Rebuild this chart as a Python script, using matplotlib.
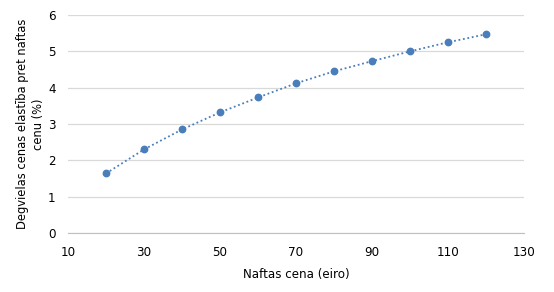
import matplotlib.pyplot as plt
import numpy as np

oil_price = [20, 30, 40, 50, 60, 70, 80, 90, 100, 110, 120]
elasticity = [1.64, 2.30, 2.85, 3.32, 3.73, 4.12, 4.45, 4.73, 5.00, 5.25, 5.47]
x_ticks = [10, 30, 50, 70, 90, 110, 130]
y_ticks = [0, 1, 2, 3, 4, 5, 6]

color = '#4a7ebb'

fig = plt.figure(figsize=(5.54, 2.92), dpi=100)
ax = fig.add_axes([0.1227, 0.202, 0.8233, 0.7466])

ax.plot(oil_price, elasticity, linestyle=(0, (1, 1.5)), color=color, linewidth=1.3)
ax.plot(oil_price, elasticity, linestyle='none', marker='o', markersize=4.6, color=color)

ax.set_xlim(10, 130)
ax.set_ylim(0, 6)
ax.set_xticks(x_ticks)
ax.set_yticks(y_ticks)
ax.grid(axis='y', color='#d9d9d9', linewidth=0.9)
ax.set_axisbelow(True)
for s in ['top', 'right', 'left']:
    ax.spines[s].set_visible(False)
ax.spines['bottom'].set_color('#bfbfbf')
ax.tick_params(axis='x', length=0, labelsize=8.6, pad=9)
ax.tick_params(axis='y', length=0, labelsize=8.6, pad=9)

ax.set_xlabel('Naftas cena (eiro)', fontsize=8.6, labelpad=7)
ax.set_ylabel('Degvielas cenas elastība pret naftas\ncenu (%)', fontsize=8.3, labelpad=2,
              linespacing=1.3)

plt.savefig('out.png', dpi=100)
